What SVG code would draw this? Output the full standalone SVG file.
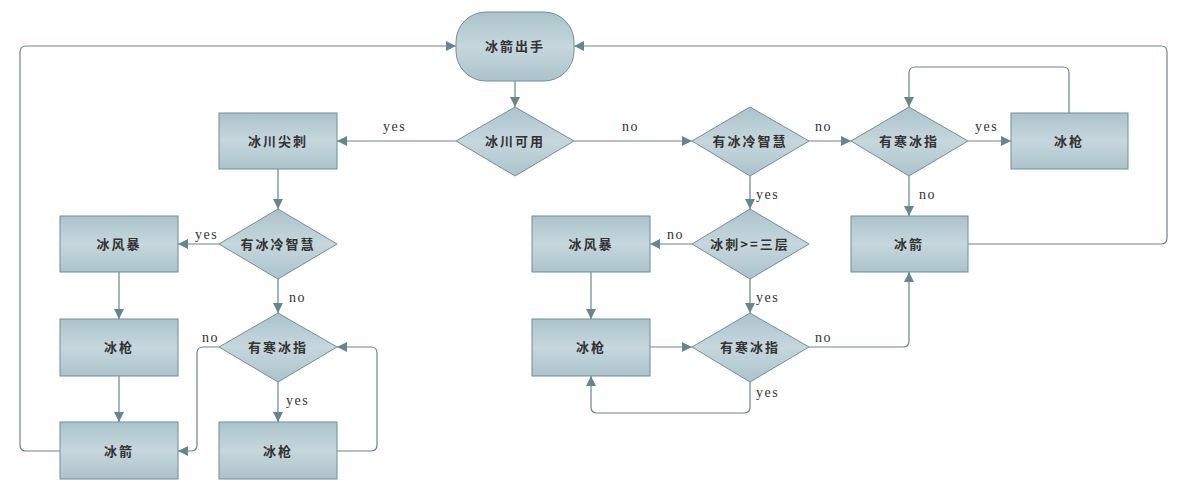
<svg xmlns="http://www.w3.org/2000/svg" width="1184" height="495" viewBox="0 0 1184 495">
<defs>
<linearGradient id="g" x1="0" y1="0" x2="0" y2="1">
<stop offset="0" stop-color="#abc3cb"/>
<stop offset="0.5" stop-color="#c6d7dd"/>
<stop offset="1" stop-color="#abc3cb"/>
</linearGradient>
<marker id="a" viewBox="0 0 10 10" refX="10" refY="5" markerWidth="10" markerHeight="10" markerUnits="userSpaceOnUse" orient="auto">
<path d="M0,0 L10,5 L0,10 Z" fill="#66868f"/>
</marker>
<style>
.n{fill:url(#g);stroke:#6f8f99;stroke-width:1}
.t{font-family:"Noto Sans CJK SC","Noto Sans CJK JP",sans-serif;font-size:13px;fill:#333;text-anchor:middle;letter-spacing:2px;font-weight:bold}
.c{fill:none;stroke:#66868f;stroke-width:1.2;marker-end:url(#a)}
.l{font-family:"Liberation Serif",serif;font-size:14px;fill:#333;letter-spacing:1.5px}
</style>
</defs>
<rect width="1184" height="495" fill="#fff"/>
<g id="connectors">
<path class="c" d="M515,81 V107"/>
<path class="c" d="M456,141 H337"/>
<path class="c" d="M574,141 H692"/>
<path class="c" d="M278,169 V209"/>
<path class="c" d="M219,244 H178"/>
<path class="c" d="M278,279 V313"/>
<path class="c" d="M119,272 V319"/>
<path class="c" d="M119,376 V422"/>
<path class="c" d="M219,347 H203 Q197,347 197,353 V445 Q197,451 191,451 H178"/>
<path class="c" d="M278,382 V422"/>
<path class="c" d="M337,451 H371 Q377,451 377,445 V353 Q377,347 371,347 H337"/>
<path class="c" d="M60,451 H26 Q20,451 20,445 V52 Q20,46 26,46 H456"/>
<path class="c" d="M809,141 H851"/>
<path class="c" d="M750,176 V209"/>
<path class="c" d="M692,244 H650"/>
<path class="c" d="M750,279 V313"/>
<path class="c" d="M591,272 V319"/>
<path class="c" d="M650,347 H692"/>
<path class="c" d="M750,382 V407 Q750,413 744,413 H597 Q591,413 591,407 V376"/>
<path class="c" d="M809,347 H903 Q909,347 909,341 V272"/>
<path class="c" d="M968,141 H1011"/>
<path class="c" d="M909,176 V216"/>
<path class="c" d="M1069,113 V73 Q1069,67 1063,67 H915 Q909,67 909,73 V107"/>
<path class="c" d="M968,244 H1161 Q1167,244 1167,238 V52 Q1167,46 1161,46 H574"/>
<text class="l" x="383" y="131">yes</text>
<text class="l" x="622" y="131">no</text>
<text class="l" x="195" y="239">yes</text>
<text class="l" x="289" y="302">no</text>
<text class="l" x="202" y="342">no</text>
<text class="l" x="286" y="405">yes</text>
<text class="l" x="815" y="131">no</text>
<text class="l" x="756" y="199">yes</text>
<text class="l" x="667" y="239">no</text>
<text class="l" x="756" y="302">yes</text>
<text class="l" x="756" y="397">yes</text>
<text class="l" x="815" y="342">no</text>
<text class="l" x="975" y="131">yes</text>
<text class="l" x="919" y="199">no</text>
</g>
<g id="start"><rect class="n" x="456" y="12" width="118" height="69" rx="30"/><text class="t" x="515" y="51">冰箭出手</text></g>
<g id="d1"><polygon class="n" points="515,107 574,141 515,176 456,141"/><text class="t" x="515" y="146">冰川可用</text></g>
<g id="r1"><rect class="n" x="219" y="113" width="118" height="56"/><text class="t" x="278" y="146">冰川尖刺</text></g>
<g id="d2"><polygon class="n" points="278,209 337,244 278,279 219,244"/><text class="t" x="278" y="249">有冰冷智慧</text></g>
<g id="r2"><rect class="n" x="60" y="216" width="118" height="56"/><text class="t" x="119" y="249">冰风暴</text></g>
<g id="r3"><rect class="n" x="60" y="319" width="118" height="57"/><text class="t" x="119" y="352">冰枪</text></g>
<g id="r4"><rect class="n" x="60" y="422" width="118" height="57"/><text class="t" x="119" y="456">冰箭</text></g>
<g id="d3"><polygon class="n" points="278,313 337,347 278,382 219,347"/><text class="t" x="278" y="352">有寒冰指</text></g>
<g id="r5"><rect class="n" x="219" y="422" width="118" height="57"/><text class="t" x="278" y="456">冰枪</text></g>
<g id="d4"><polygon class="n" points="750,107 809,141 750,176 692,141"/><text class="t" x="750" y="146">有冰冷智慧</text></g>
<g id="d5"><polygon class="n" points="909,107 968,141 909,176 851,141"/><text class="t" x="909" y="146">有寒冰指</text></g>
<g id="r6"><rect class="n" x="1011" y="113" width="117" height="56"/><text class="t" x="1069" y="146">冰枪</text></g>
<g id="r7"><rect class="n" x="851" y="216" width="117" height="56"/><text class="t" x="909" y="249">冰箭</text></g>
<g id="d6"><polygon class="n" points="750,209 809,244 750,279 692,244"/><text class="t" x="750" y="249">冰刺&gt;=三层</text></g>
<g id="r8"><rect class="n" x="532" y="216" width="118" height="56"/><text class="t" x="591" y="249">冰风暴</text></g>
<g id="r9"><rect class="n" x="532" y="319" width="118" height="57"/><text class="t" x="591" y="352">冰枪</text></g>
<g id="d7"><polygon class="n" points="750,313 809,347 750,382 692,347"/><text class="t" x="750" y="352">有寒冰指</text></g>
</svg>
